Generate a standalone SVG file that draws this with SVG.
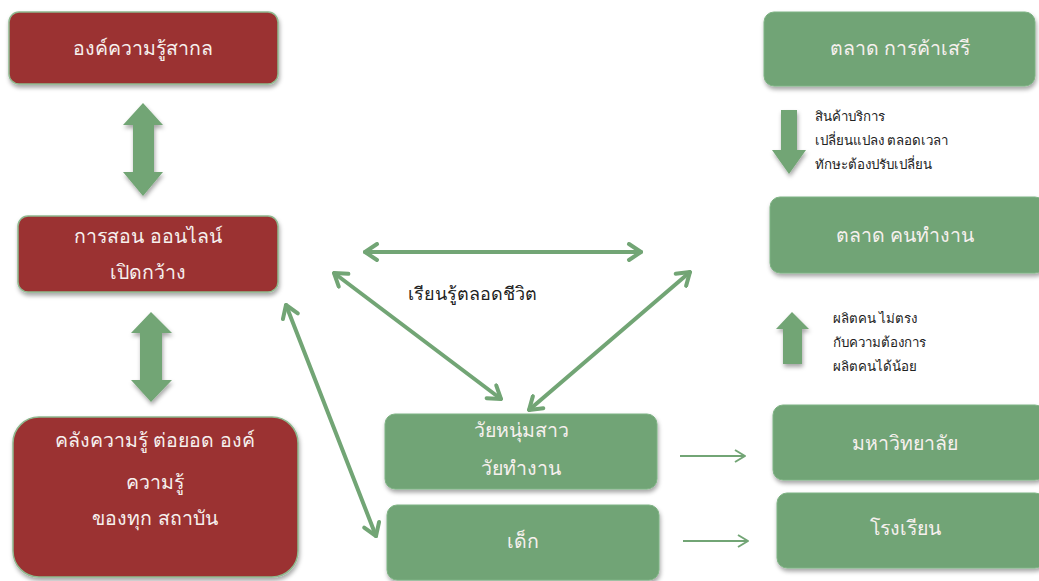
<svg xmlns="http://www.w3.org/2000/svg" width="1039" height="581" viewBox="0 0 1039 581">
<defs>
<style>
.red{fill:#9b3232;stroke:#8fb88f;stroke-width:1.5}
.grn{fill:#71a476;stroke:#7fb384;stroke-width:1}
.bt{font-family:"Noto Sans","DejaVu Sans",sans-serif;font-size:19.5px;font-weight:300;fill:#f6f0ee;text-anchor:middle}
.st{font-family:"Noto Sans","DejaVu Sans",sans-serif;font-size:13.3px;font-weight:300;fill:#222}
.lt{font-family:"Noto Sans","DejaVu Sans",sans-serif;font-size:18px;font-weight:300;fill:#222}
.blk{fill:#72a575}
.ln{stroke:#72a575;stroke-width:4;fill:none;stroke-linecap:round}
.thin{stroke:#72a575;stroke-width:2;fill:none}
</style>
<filter id="sh" x="-10%" y="-10%" width="125%" height="130%">
<feDropShadow dx="1" dy="3" stdDeviation="2" flood-color="#000" flood-opacity="0.35"/>
</filter>
<marker id="ah" viewBox="0 0 20 20" refX="18" refY="10" markerWidth="20" markerHeight="20" markerUnits="userSpaceOnUse" orient="auto-start-reverse">
<path d="M6,2 L18,10 L6,18" fill="none" stroke="#72a575" stroke-width="4" stroke-linecap="round" stroke-linejoin="round"/>
</marker>
<marker id="ah2" viewBox="0 0 16 16" refX="14" refY="8" markerWidth="16" markerHeight="16" markerUnits="userSpaceOnUse" orient="auto">
<path d="M4,2 L14,8 L4,14" fill="none" stroke="#72a575" stroke-width="2" stroke-linejoin="round"/>
</marker>
</defs>

<g id="connectors">
<polygon class="blk" filter="url(#sh)" points="143,103 163,125 154,125 154,172 163,172 143,196 123,172 133,172 133,125 123,125"/>
<polygon class="blk" filter="url(#sh)" points="151,312 172,333 162,333 162,380 172,380 151,402 131,380 140,380 140,333 131,333"/>
<polygon class="blk" filter="url(#sh)" points="781,110 797,110 797,150 806,150 789,174 772,150 781,150"/>
<polygon class="blk" filter="url(#sh)" points="792,312 809,329 802,329 802,364 783,364 783,329 776,329"/>
<line class="ln" x1="365" y1="252" x2="641" y2="252" marker-start="url(#ah)" marker-end="url(#ah)"/>
<line class="ln" x1="334" y1="273" x2="501" y2="399" marker-start="url(#ah)" marker-end="url(#ah)"/>
<line class="ln" x1="690" y1="272" x2="529" y2="410" marker-start="url(#ah)" marker-end="url(#ah)"/>
<line class="ln" x1="286" y1="305" x2="376" y2="536" marker-start="url(#ah)" marker-end="url(#ah)"/>
<line class="thin" x1="680" y1="456" x2="745" y2="456" marker-end="url(#ah2)"/>
<line class="thin" x1="683" y1="541" x2="748" y2="541" marker-end="url(#ah2)"/>
</g>

<g id="n1"><rect class="red" filter="url(#sh)" x="9" y="12" width="269" height="72" rx="10"/>
<text class="bt" x="143" y="55">องค์ความรู้สากล</text></g>
<g id="n2"><rect class="red" filter="url(#sh)" x="18" y="216" width="260" height="76" rx="10"/>
<text class="bt" x="148" y="243">การสอน ออนไลน์</text>
<text class="bt" x="148" y="279">เปิดกว้าง</text></g>
<g id="n3"><rect class="red" filter="url(#sh)" x="13" y="417" width="285" height="160" rx="26"/>
<text class="bt" x="155" y="447">คลังความรู้ ต่อยอด องค์</text>
<text class="bt" x="155" y="489">ความรู้</text>
<text class="bt" x="155" y="525">ของทุก สถาบัน</text></g>

<g id="n4"><rect class="grn" filter="url(#sh)" x="764" y="12" width="271" height="74" rx="10"/>
<text class="bt" x="900" y="55">ตลาด การค้าเสรี</text></g>
<g id="n5"><rect class="grn" filter="url(#sh)" x="770" y="197" width="275" height="76" rx="10"/>
<text class="bt" x="905" y="242">ตลาด คนทำงาน</text></g>
<g id="n6"><rect class="grn" filter="url(#sh)" x="773" y="405" width="272" height="75" rx="10"/>
<text class="bt" x="905" y="450">มหาวิทยาลัย</text></g>
<g id="n7"><rect class="grn" filter="url(#sh)" x="777" y="493" width="268" height="75" rx="10"/>
<text class="bt" x="905" y="535">โรงเรียน</text></g>
<g id="n8"><rect class="grn" filter="url(#sh)" x="385" y="414" width="272" height="75" rx="10"/>
<text class="bt" x="521" y="437">วัยหนุ่มสาว</text>
<text class="bt" x="521" y="475">วัยทำงาน</text></g>
<g id="n9"><rect class="grn" filter="url(#sh)" x="387" y="505" width="272" height="75" rx="10"/>
<text class="bt" x="523" y="548">เด็ก</text></g>

<g id="labels">
<text class="st" x="815" y="121">สินค้าบริการ</text>
<text class="st" x="815" y="145">เปลี่ยนแปลง ตลอดเวลา</text>
<text class="st" x="815" y="169">ทักษะต้องปรับเปลี่ยน</text>
<text class="st" x="833" y="323">ผลิตคน ไม่ตรง</text>
<text class="st" x="833" y="347">กับความต้องการ</text>
<text class="st" x="833" y="371">ผลิตคนได้น้อย</text>
<text class="lt" x="408" y="300">เรียนรู้ตลอดชีวิต</text>
</g>
</svg>
